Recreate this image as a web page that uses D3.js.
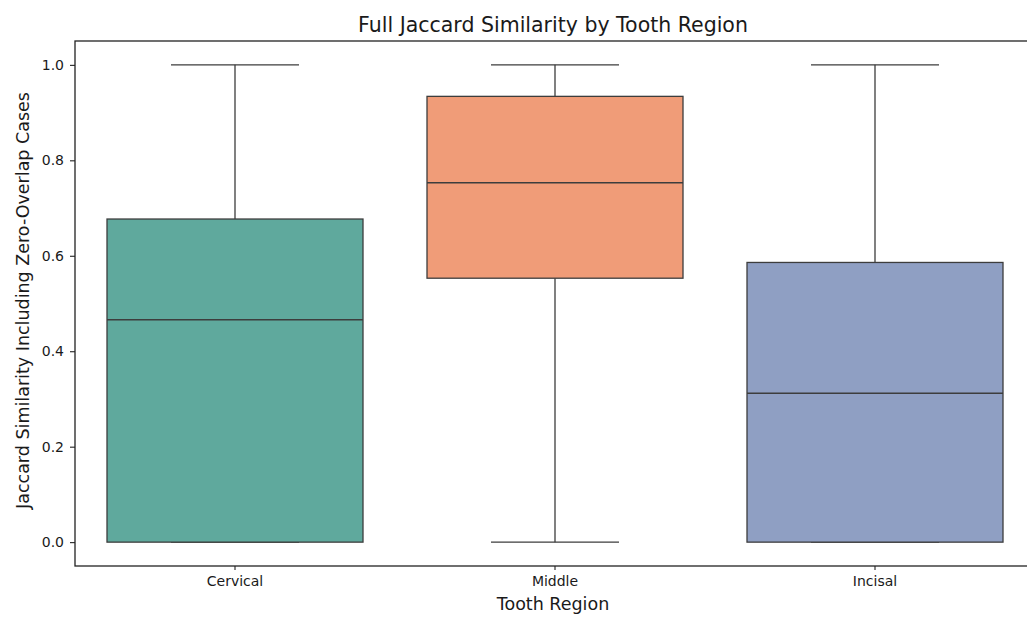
<!DOCTYPE html>
<html><head><meta charset="utf-8">
<script src="https://cdn.jsdelivr.net/npm/d3@7"></script>
<style>body{margin:0;background:#fff}svg{display:block}text{font-family:"DejaVu Sans",sans-serif;fill:#1a1a1a}</style>
</head><body><svg id="c" width="1027" height="617"></svg>
<script>
const categories = ["Cervical","Middle","Incisal"];
const whiskerLow = [0.0, 0.0, 0.0];
const q1 = [0.0, 0.553, 0.0];
const median = [0.466, 0.753, 0.312];
const q3 = [0.677, 0.934, 0.586];
const whiskerHigh = [1.0, 1.0, 1.0];
const colors = ["#5fa99d","#f09c78","#8f9fc3"];
const yTicks = [0.0,0.2,0.4,0.6,0.8,1.0];

const svg = d3.select("#c");
const L=75, R=1035, T=41, B=566;
const x = d3.scaleBand().domain(categories).range([L,R]).paddingInner(0).paddingOuter(0);
const y = d3.scaleLinear().domain([-0.05,1.05]).range([B,T]);
const bw = x.bandwidth()*0.8;
const ink = "#3d3d3d";

const g = svg.append("g");
categories.forEach((c,i)=>{
  const cx = x(c)+x.bandwidth()/2;
  g.append("line").attr("x1",cx).attr("x2",cx).attr("y1",y(q3[i])).attr("y2",y(whiskerHigh[i])).attr("stroke",ink).attr("stroke-width",1.3);
  g.append("line").attr("x1",cx).attr("x2",cx).attr("y1",y(q1[i])).attr("y2",y(whiskerLow[i])).attr("stroke",ink).attr("stroke-width",1.3);
  g.append("line").attr("x1",cx-bw/4).attr("x2",cx+bw/4).attr("y1",y(whiskerHigh[i])).attr("y2",y(whiskerHigh[i])).attr("stroke",ink).attr("stroke-width",1.3);
  g.append("line").attr("x1",cx-bw/4).attr("x2",cx+bw/4).attr("y1",y(whiskerLow[i])).attr("y2",y(whiskerLow[i])).attr("stroke",ink).attr("stroke-width",1.3);
  g.append("rect").attr("x",cx-bw/2).attr("width",bw).attr("y",y(q3[i])).attr("height",y(q1[i])-y(q3[i]))
    .attr("fill",colors[i]).attr("stroke",ink).attr("stroke-width",1.3);
  g.append("line").attr("x1",cx-bw/2).attr("x2",cx+bw/2).attr("y1",y(median[i])).attr("y2",y(median[i])).attr("stroke",ink).attr("stroke-width",1.3);
});

const ya = svg.append("g").attr("transform",`translate(${L},0)`).call(d3.axisLeft(y).tickValues(yTicks).tickFormat(d3.format(".1f")).tickSize(5).tickPadding(6));
const xa = svg.append("g").attr("transform",`translate(0,${B})`).call(d3.axisBottom(x).tickSize(4).tickPadding(6));
[ya,xa].forEach(a=>{a.select(".domain").remove();a.selectAll("line").attr("stroke","#222").attr("stroke-width",1.1);a.selectAll("text").attr("font-size",14).attr("fill","#1a1a1a").attr("font-family","DejaVu Sans");});
svg.append("rect").attr("x",L).attr("y",T).attr("width",R-L).attr("height",B-T).attr("fill","none").attr("stroke","#222").attr("stroke-width",1.3);

svg.append("text").attr("x",553).attr("y",32).attr("text-anchor","middle").attr("font-size",20.5).text("Full Jaccard Similarity by Tooth Region");
svg.append("text").attr("x",553).attr("y",610).attr("text-anchor","middle").attr("font-size",17.5).text("Tooth Region");
svg.append("text").attr("transform",`translate(28.5,${(T+B)/2-3}) rotate(-90)`).attr("text-anchor","middle").attr("font-size",17.5).text("Jaccard Similarity Including Zero-Overlap Cases");
</script></body></html>
